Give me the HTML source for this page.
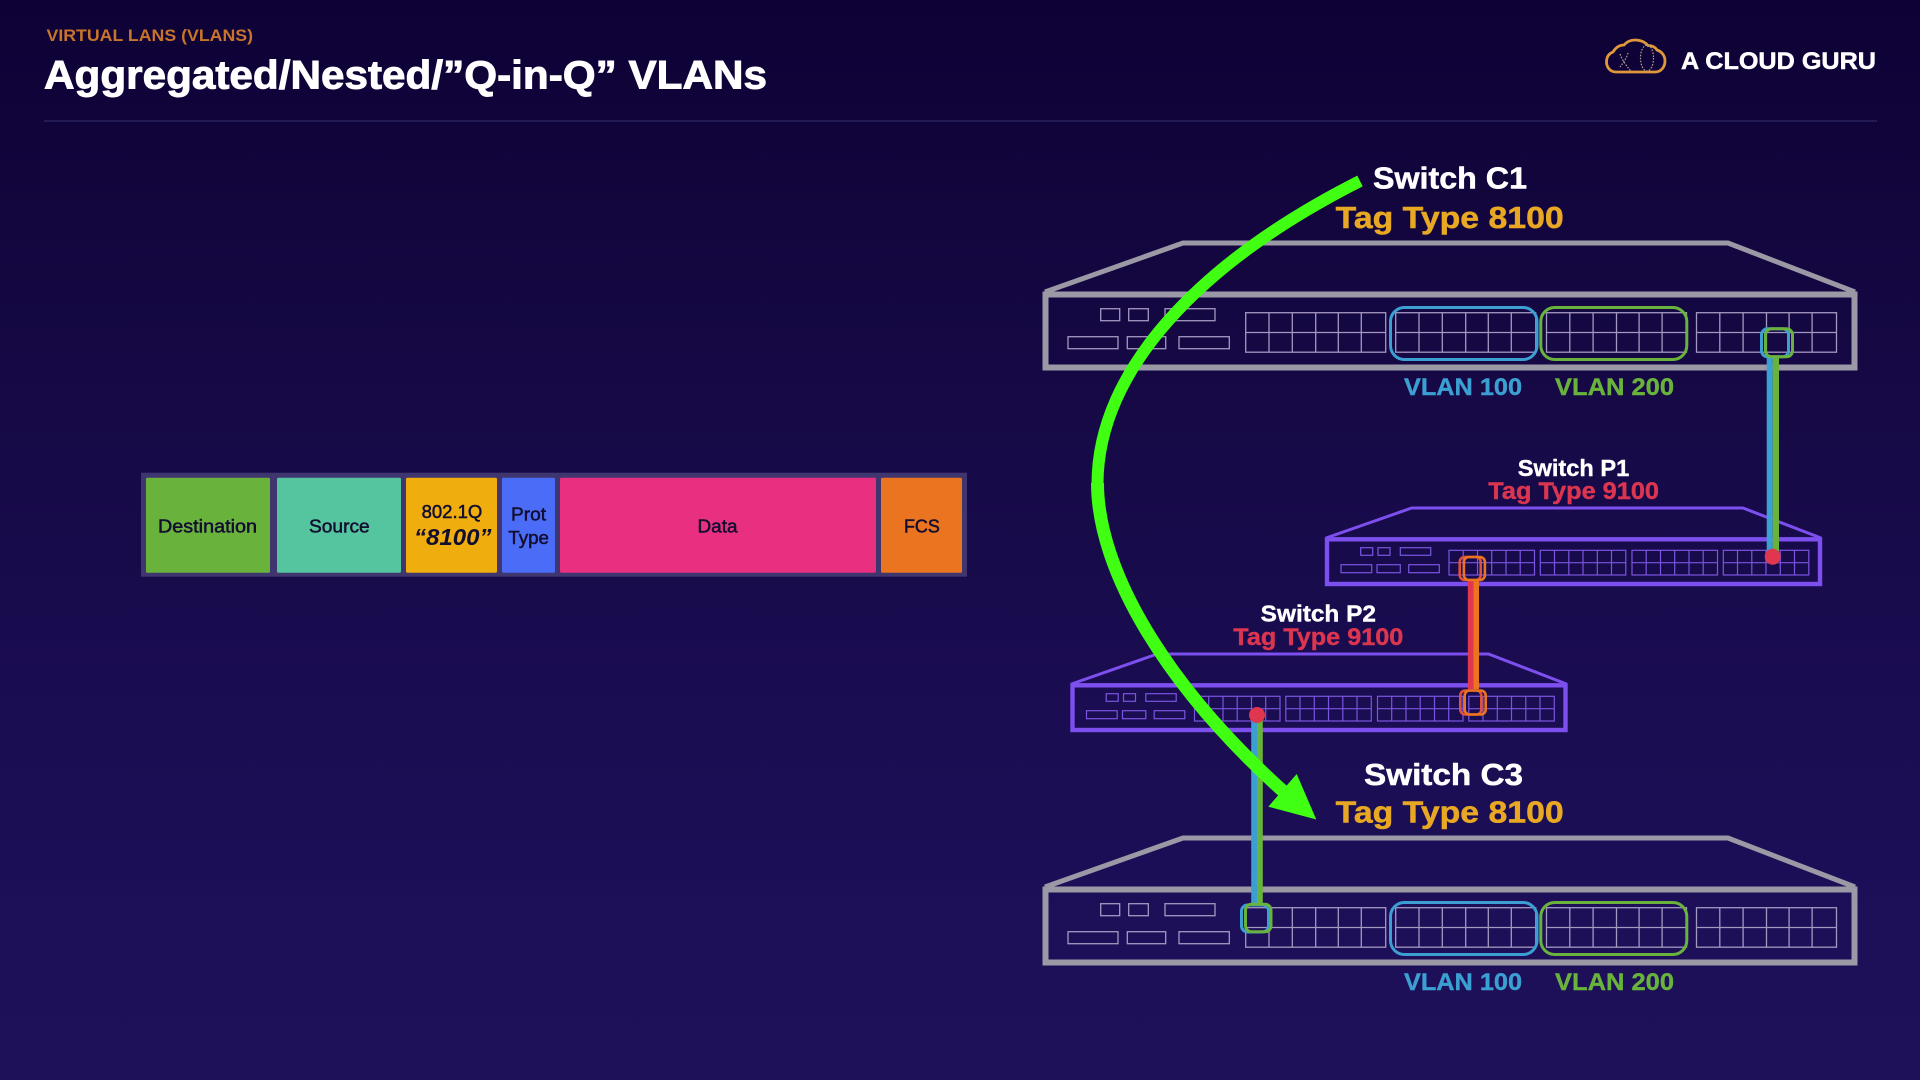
<!DOCTYPE html>
<html lang="en">
<head>
<meta charset="utf-8">
<title>Aggregated/Nested/"Q-in-Q" VLANs</title>
<style>
html,body{margin:0;padding:0;width:1920px;height:1080px;overflow:hidden;background:#150840}
svg{display:block}
text{font-family:"Liberation Sans",sans-serif}
.b{font-weight:700}
.c{fill:#120e30;stroke:#120e30;stroke-width:.5}
</style>
</head>
<body>
<svg xmlns="http://www.w3.org/2000/svg" width="1920" height="1080" viewBox="0 0 1920 1080">
<defs>
<linearGradient id="bg" x1="0" y1="0" x2="0" y2="1">
<stop offset="0" stop-color="#0d0135"/>
<stop offset=".2" stop-color="#13063e"/>
<stop offset=".5" stop-color="#180b4b"/>
<stop offset=".85" stop-color="#1d0f58"/>
<stop offset="1" stop-color="#1e1059"/>
</linearGradient>
<g id="bgrid" fill="none" stroke="#a598c0" stroke-width="1.3">
<rect x="0" y="0" width="140" height="39.5"/>
<path d="M23.3 0V39.5M46.6 0V39.5M70 0V39.5M92.6 0V39.5M115.6 0V39.5M0 19.8H140"/>
</g>
<g id="big">
<path d="M1045 292L1183 243H1728L1855 292" fill="none" stroke="#9c99a6" stroke-width="5"/>
<rect x="1045.5" y="294.5" width="809" height="73" fill="none" stroke="#9c99a6" stroke-width="6"/>
<g fill="none" stroke="#a598c0" stroke-width="1.3">
<rect x="1100.7" y="308.7" width="19" height="12"/>
<rect x="1128.7" y="308.7" width="19.6" height="12"/>
<rect x="1165" y="308.7" width="50" height="12"/>
<rect x="1068" y="336.7" width="50" height="12"/>
<rect x="1127.3" y="336.7" width="38.4" height="12"/>
<rect x="1179" y="336.7" width="50.3" height="12"/>
</g>
<use href="#bgrid" transform="translate(1245.7 312.7)"/>
<use href="#bgrid" transform="translate(1395.7 312.7)"/>
<use href="#bgrid" transform="translate(1546.5 312.7)"/>
<use href="#bgrid" transform="translate(1696.5 312.7)"/>
<rect x="1390.5" y="307.5" width="146.5" height="52" rx="14" fill="none" stroke="#3b9fd1" stroke-width="3"/>
<rect x="1540.8" y="307.5" width="146" height="52" rx="14" fill="none" stroke="#69b33d" stroke-width="3"/>
<text class="b" x="1404" y="395" font-size="24" fill="#3b9fd1" stroke="#3b9fd1" stroke-width=".4" textLength="118" lengthAdjust="spacingAndGlyphs">VLAN 100</text>
<text class="b" x="1555" y="395" font-size="24" fill="#69b33d" stroke="#69b33d" stroke-width=".4" textLength="119" lengthAdjust="spacingAndGlyphs">VLAN 200</text>
</g>
<g id="sgrid" fill="none" stroke="#7a55e0" stroke-width="1.2">
<rect x="0" y="0" width="85.5" height="24.7"/>
<path d="M14.2 0V24.7M28.5 0V24.7M42.7 0V24.7M57 0V24.7M71.2 0V24.7M0 12.4H85.5"/>
</g>
<g id="small">
<path d="M1326 538L1411.7 508H1743L1821 538" fill="none" stroke="#7c4fee" stroke-width="3"/>
<rect x="1327" y="539.3" width="493" height="44.7" fill="none" stroke="#7c4fee" stroke-width="4.4"/>
<g fill="none" stroke="#7a55e0" stroke-width="1.2">
<rect x="1360.7" y="547.7" width="12" height="7.6"/>
<rect x="1378" y="547.7" width="12" height="7.6"/>
<rect x="1400.3" y="547.7" width="30.4" height="7.6"/>
<rect x="1341" y="564.7" width="30.7" height="8"/>
<rect x="1377" y="564.7" width="23.3" height="8"/>
<rect x="1408.7" y="564.7" width="30.6" height="8"/>
</g>
<use href="#sgrid" transform="translate(1449 550.3)"/>
<use href="#sgrid" transform="translate(1540.3 550.3)"/>
<use href="#sgrid" transform="translate(1632 550.3)"/>
<use href="#sgrid" transform="translate(1723.3 550.3)"/>
</g>
</defs>

<rect width="1920" height="1080" fill="url(#bg)"/>

<!-- Header -->
<text class="b" x="46.5" y="41" font-size="16.5" fill="#c8742a" textLength="206.5" lengthAdjust="spacingAndGlyphs">VIRTUAL LANS (VLANS)</text>
<text class="b" x="44" y="88.3" font-size="40" fill="#ffffff" stroke="#ffffff" stroke-width=".9" textLength="723" lengthAdjust="spacingAndGlyphs">Aggregated/Nested/”Q-in-Q” VLANs</text>
<rect x="44" y="120" width="1833" height="2" fill="#241a55"/>

<!-- Logo -->
<path d="M1616 72C1610 72 1606.5 67 1606.5 62C1606.5 57 1609 53.5 1613 52C1616 47 1620 45 1624 45C1627 41.5 1631 40 1635 40C1640 40 1645 42 1648 45.5C1652 45.5 1655 47 1657 50C1662 51.5 1665 56 1665 61C1665 67 1661 72 1655 72Z" fill="none" stroke="#e0983a" stroke-width="2.8"/>
<path d="M1620 54C1622 60 1626 65 1629 69C1630 70 1631 71 1632 71M1628 53C1627 57 1624 62 1620 67" fill="none" stroke="#b0a08c" stroke-width="1.2" stroke-dasharray="1.6 1.4"/>
<ellipse cx="1647" cy="58" rx="6.5" ry="13" fill="none" stroke="#b0a08c" stroke-width="1.2" stroke-dasharray="1.6 1.4"/>
<text class="b" x="1681" y="69" font-size="24.5" fill="#ffffff" stroke="#ffffff" stroke-width=".5" textLength="195" lengthAdjust="spacingAndGlyphs">A CLOUD GURU</text>

<!-- Frame -->
<rect x="141" y="472.7" width="826" height="104" fill="#3f356f"/>
<rect x="146" y="477.7" width="124" height="95" rx="1.5" fill="#69b33d"/>
<rect x="277" y="477.7" width="124" height="95" rx="1.5" fill="#55c5a0"/>
<rect x="406" y="477.7" width="91" height="95" rx="1.5" fill="#f0ad0e"/>
<rect x="502" y="477.7" width="53" height="95" rx="1.5" fill="#4a6cf7"/>
<rect x="560" y="477.7" width="316" height="95" rx="1.5" fill="#e92f80"/>
<rect x="881" y="477.7" width="81" height="95" rx="1.5" fill="#ea741f"/>
<text class="c" x="158" y="532.7" font-size="18.5" textLength="99" lengthAdjust="spacingAndGlyphs">Destination</text>
<text class="c" x="309" y="532.7" font-size="18.5" textLength="60.7" lengthAdjust="spacingAndGlyphs">Source</text>
<text class="c" x="421.6" y="518" font-size="18.5" textLength="60.7" lengthAdjust="spacingAndGlyphs">802.1Q</text>
<text class="b" x="414" y="545" font-size="23" font-style="italic" fill="#120e30" textLength="77.5" lengthAdjust="spacingAndGlyphs">“8100”</text>
<text class="c" x="511" y="520.7" font-size="18.5" textLength="35" lengthAdjust="spacingAndGlyphs">Prot</text>
<text class="c" x="508.3" y="544" font-size="18.5" textLength="40.7" lengthAdjust="spacingAndGlyphs">Type</text>
<text class="c" x="697.5" y="532.7" font-size="18.5" textLength="40" lengthAdjust="spacingAndGlyphs">Data</text>
<text class="c" x="904" y="532.7" font-size="18.5" textLength="35.8" lengthAdjust="spacingAndGlyphs">FCS</text>

<!-- Switches -->
<use href="#big"/>
<use href="#big" transform="translate(0 595)"/>
<use href="#small"/>
<use href="#small" transform="translate(-254.5 146)"/>

<!-- Connectors -->
<rect x="1766.7" y="358" width="6" height="199" fill="#3b9fd1"/>
<rect x="1772.7" y="358" width="6.3" height="199" fill="#69b33d"/>
<circle cx="1772.7" cy="556.7" r="8" fill="#e0364f"/>
<rect x="1761.5" y="328.8" width="27" height="28" rx="6" fill="none" stroke="#3b9fd1" stroke-width="3"/>
<rect x="1765.5" y="328.8" width="27" height="28" rx="6" fill="none" stroke="#69b33d" stroke-width="3"/>

<rect x="1467.8" y="581" width="5.7" height="108" fill="#e0364f"/>
<rect x="1473.5" y="581" width="5.5" height="108" fill="#ea741f"/>
<rect x="1459.7" y="557" width="21" height="23" rx="5" fill="none" stroke="#e0503a" stroke-width="2.6"/>
<rect x="1463.9" y="557" width="21" height="23" rx="5" fill="none" stroke="#ea741f" stroke-width="2.6"/>
<rect x="1460.3" y="690.5" width="21" height="24" rx="5" fill="none" stroke="#e0503a" stroke-width="2.6"/>
<rect x="1464.7" y="690.5" width="21" height="24" rx="5" fill="none" stroke="#ea741f" stroke-width="2.6"/>

<rect x="1251.2" y="715" width="5.8" height="188" fill="#3b9fd1"/>
<rect x="1257" y="715" width="5.8" height="188" fill="#69b33d"/>
<circle cx="1257" cy="715" r="8" fill="#e0364f"/>
<rect x="1241.5" y="905" width="27" height="27" rx="6" fill="none" stroke="#3b9fd1" stroke-width="3"/>
<rect x="1245.5" y="904.2" width="25.5" height="27.6" rx="6" fill="none" stroke="#69b33d" stroke-width="3"/>

<!-- Curved arrow -->
<path d="M1360 181C1200 262 1097.5 370 1097.5 484" fill="none" stroke="#41ff12" stroke-width="12"/>
<path d="M1097.5 483C1097.5 570 1165 685 1284 792" fill="none" stroke="#41ff12" stroke-width="13"/>
<polygon points="1316.3,819.5 1296.7,774 1268.3,806.7" fill="#41ff12"/>

<!-- Labels -->
<text class="b" x="1373" y="188.3" font-size="31" fill="#ffffff" stroke="#ffffff" stroke-width=".5" textLength="154" lengthAdjust="spacingAndGlyphs">Switch C1</text>
<text class="b" x="1335.7" y="228" font-size="31" fill="#e8a823" stroke="#e8a823" stroke-width=".5" textLength="228" lengthAdjust="spacingAndGlyphs">Tag Type 8100</text>
<text class="b" x="1517.7" y="476" font-size="23.5" fill="#ffffff" stroke="#ffffff" stroke-width=".4" textLength="111.6" lengthAdjust="spacingAndGlyphs">Switch P1</text>
<text class="b" x="1488.3" y="499" font-size="24" fill="#dc3550" stroke="#dc3550" stroke-width=".4" textLength="170.7" lengthAdjust="spacingAndGlyphs">Tag Type 9100</text>
<text class="b" x="1260.7" y="621.7" font-size="23.5" fill="#ffffff" stroke="#ffffff" stroke-width=".4" textLength="115.3" lengthAdjust="spacingAndGlyphs">Switch P2</text>
<text class="b" x="1233.3" y="645" font-size="24" fill="#dc3550" stroke="#dc3550" stroke-width=".4" textLength="170" lengthAdjust="spacingAndGlyphs">Tag Type 9100</text>
<text class="b" x="1364" y="785" font-size="31" fill="#ffffff" stroke="#ffffff" stroke-width=".5" textLength="159" lengthAdjust="spacingAndGlyphs">Switch C3</text>
<text class="b" x="1335.7" y="822.5" font-size="31" fill="#e8a823" stroke="#e8a823" stroke-width=".5" textLength="228" lengthAdjust="spacingAndGlyphs">Tag Type 8100</text>
</svg>
</body>
</html>
